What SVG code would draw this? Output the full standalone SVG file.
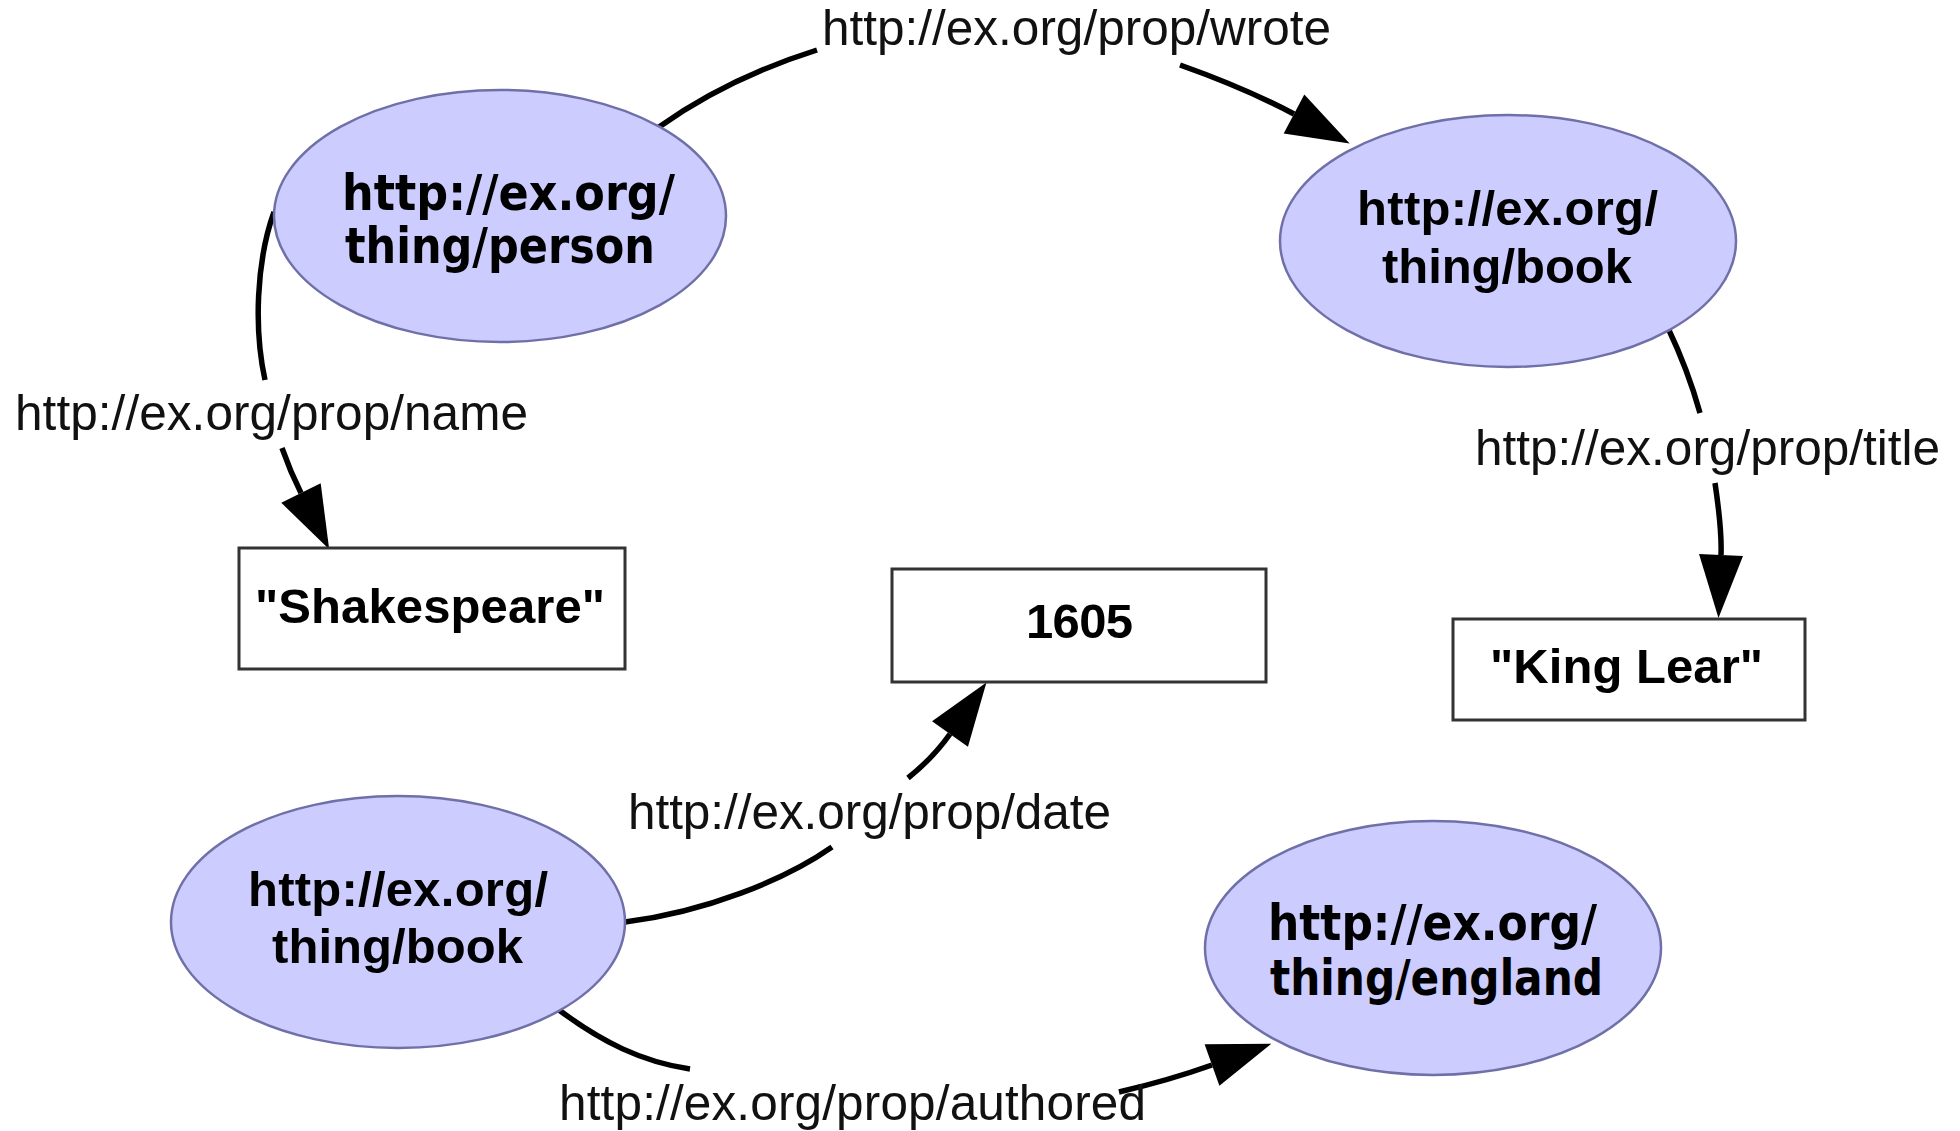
<svg xmlns="http://www.w3.org/2000/svg" width="1960" height="1131" viewBox="0 0 1960 1131">
<style>
.res{fill:#ccccff;stroke:#7070a8;stroke-width:2.5}
.lit{fill:#ffffff;stroke:#333333;stroke-width:3}
.rt{font-family:"DejaVu Sans Condensed","DejaVu Sans",sans-serif;font-stretch:condensed;font-weight:bold;font-size:49px;fill:#000}
.bt{font-family:"Liberation Sans",Arial,sans-serif;font-weight:bold;font-size:49px;fill:#000}
.lbl{font-family:"Liberation Sans",Arial,sans-serif;font-size:49.5px;fill:#111}
.edge{fill:none;stroke:#000;stroke-width:5.5;marker-end:url(#arrow)}
</style>
<defs>
<marker id="arrow" markerUnits="userSpaceOnUse" markerWidth="64" markerHeight="44" refX="0" refY="22" orient="auto" overflow="visible">
<path d="M0,0 L63,22 L0,44 z" fill="#000"/>
</marker>
</defs>
<rect width="1960" height="1131" fill="#fff"/>
<g id="connectors">
<path class="edge" d="M659,127 Q728,78 817,50 M1180,65 Q1245,88 1294,114"/>
<path class="edge" d="M274,212 C256,262 254,330 265,380 M282,448 Q290,471 301,493"/>
<path class="edge" d="M1668,328 Q1688,370 1700,413 M1715,483 Q1722,530 1721,555"/>
<path class="edge" d="M625,922 C705,912 785,880 832,847 M908,778 Q933,758 950,734"/>
<path class="edge" d="M559,1010 C602,1042 642,1062 690,1069 M1119,1092 Q1170,1080 1212,1065"/>
<text class="lbl" x="822" y="45" textLength="509">http://ex.org/prop/wrote</text>
<text class="lbl" x="15" y="430" textLength="513">http://ex.org/prop/name</text>
<text class="lbl" x="1475" y="465" textLength="465">http://ex.org/prop/title</text>
<text class="lbl" x="628" y="829" textLength="483">http://ex.org/prop/date</text>
<text class="lbl" x="559" y="1120" textLength="587">http://ex.org/prop/authored</text>
</g>
<g id="person">
<ellipse class="res" cx="500" cy="216" rx="226" ry="126"/>
<text class="rt" x="342" y="210" textLength="333" lengthAdjust="spacingAndGlyphs">http://ex.org/</text>
<text class="rt" x="345" y="263" textLength="310" lengthAdjust="spacingAndGlyphs">thing/person</text>
</g>
<g id="book1">
<ellipse class="res" cx="1508" cy="241" rx="228" ry="126"/>
<text class="bt" x="1357" y="225" textLength="301">http://ex.org/</text>
<text class="bt" x="1382" y="283" textLength="250">thing/book</text>
</g>
<g id="book2">
<ellipse class="res" cx="398" cy="922" rx="227" ry="126"/>
<text class="bt" x="248" y="906" textLength="300">http://ex.org/</text>
<text class="bt" x="272" y="963" textLength="251">thing/book</text>
</g>
<g id="england">
<ellipse class="res" cx="1433" cy="948" rx="228" ry="127"/>
<text class="rt" x="1268" y="940" textLength="329" lengthAdjust="spacingAndGlyphs">http://ex.org/</text>
<text class="rt" x="1270" y="995" textLength="333" lengthAdjust="spacingAndGlyphs">thing/england</text>
</g>
<g id="shakespeare">
<rect class="lit" x="239" y="548" width="386" height="121"/>
<text class="bt" x="255" y="623" textLength="350">"Shakespeare"</text>
</g>
<g id="date1605">
<rect class="lit" x="892" y="569" width="374" height="113"/>
<text class="bt" x="1026" y="638" textLength="107">1605</text>
</g>
<g id="kinglear">
<rect class="lit" x="1453" y="619" width="352" height="101"/>
<text class="bt" x="1490" y="683" textLength="273">"King Lear"</text>
</g>
</svg>
